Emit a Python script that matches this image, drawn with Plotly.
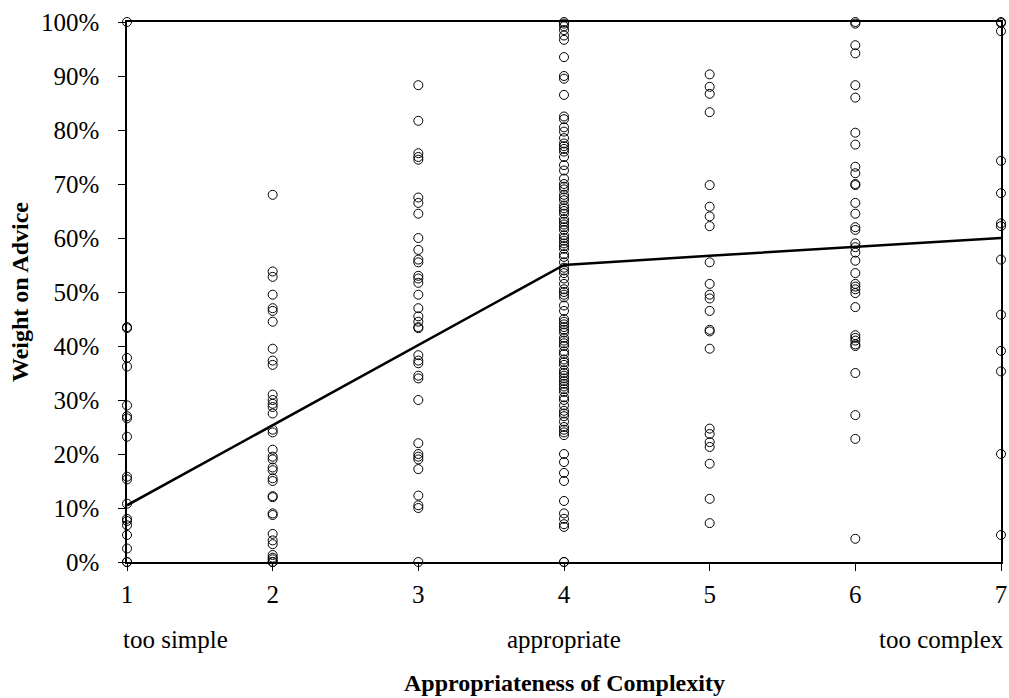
import plotly.graph_objects as go

# ---- data (weight on advice, in %) per complexity rating ----
rating_levels = [1, 2, 3, 4, 5, 6, 7]
woa_1 = [100, 43.5, 43.3, 37.8, 36.2, 29, 27, 26.6, 23.2, 15.8, 15.3, 10.8, 8, 7.6, 6.8, 5, 2.5, 0, 0]
woa_2 = [68, 53.8, 52.8, 49.5, 47, 46.5, 44.5, 39.5, 37.3, 36.5, 31, 30, 29.3, 28.7, 27.5, 24.5, 24,
         20.8, 19.5, 19, 17.5, 17, 15.5, 15, 12.2, 12, 9, 8.7, 5.2, 4, 3.3, 1.3, 0.8, 0.5, 0, 0]
woa_3 = [88.3, 81.7, 75.7, 75, 74.5, 67.5, 66.5, 64.5, 60, 57.8, 56, 55.5, 53, 52.5, 51.7, 49.5, 47,
         45.5, 44.5, 43.5, 43.3, 38.3, 37.3, 36.8, 34.5, 34, 30, 22, 20, 19.5, 19, 17.2, 12.3, 10.5, 10, 0]
woa_4 = [100, 99.7, 99.2, 98.5, 97.5, 96.7, 93.5, 90, 89.5, 86.5, 82.5, 82, 80.5, 79.7, 78.5, 77.5, 77,
         76.5, 76, 75, 73.5, 72.5, 71, 70, 69.5, 69, 68, 67.5, 67, 66, 65.5, 65, 64.5, 63.5, 63, 62.5,
         62, 61.5, 60.5, 60, 59.5, 59, 58.5, 58, 57, 56.5, 55.5, 54.5, 54, 53.5, 52.5, 51.5, 50.5, 50,
         49.5, 49, 47.5, 46.5, 45, 44.5, 44, 43.5, 43, 42.5, 41.5, 41, 40.5, 40, 39, 38.5, 37.5, 37,
         36.5, 35.5, 35, 34.5, 34, 33.5, 33, 32.5, 32, 31.5, 30.5, 30, 29, 28, 27.5, 27, 26, 25, 24.5,
         24, 23.5, 20, 18.5, 16.5, 15, 11.3, 9, 8, 7, 6.5, 0, 0]
woa_5 = [90.3, 88, 86.7, 83.3, 69.8, 65.8, 64, 62.2, 55.5, 51.5, 49.5, 48.8, 46.5, 43, 42.7, 39.5,
         24.7, 23.7, 22.2, 21.3, 18.2, 11.7, 7.2]
woa_6 = [100, 99.7, 95.7, 94.2, 88.3, 86, 79.5, 77.3, 73.2, 72, 70, 69.8, 66.5, 64.5, 62, 61.5, 59,
         58.3, 57.3, 55.8, 53.5, 51.5, 51, 50.5, 49.8, 47.2, 42, 41.5, 41, 40.3, 40, 35, 27.2, 22.8, 4.3]
woa_7 = [100, 99.8, 98.3, 74.3, 68.3, 62.7, 62.2, 56, 45.8, 39.1, 35.3, 20, 5]
fit_line = [10.5, 25.3, 40.2, 55.0, 56.7, 58.3, 60.0]

y_ticks = [0, 0.1, 0.2, 0.3, 0.4, 0.5, 0.6, 0.7, 0.8, 0.9, 1.0]
y_tick_labels = ["0%", "10%", "20%", "30%", "40%", "50%", "60%", "70%", "80%", "90%", "100%"]
x_tick_labels = ["1", "2", "3", "4", "5", "6", "7"]
anchor_labels = ["too simple", "appropriate", "too complex"]

columns = [woa_1, woa_2, woa_3, woa_4, woa_5, woa_6, woa_7]
xs, ys = [], []
for lvl, vals in zip(rating_levels, columns):
    for v in vals:
        xs.append(lvl)
        ys.append(v / 100.0)

FONT = "Liberation Serif"
fig = go.Figure()
fig.add_trace(go.Scatter(
    x=xs, y=ys, mode="markers", cliponaxis=False,
    marker=dict(symbol="circle-open", size=9, color="black", line=dict(width=1, color="black")),
    showlegend=False))
fig.add_trace(go.Scatter(
    x=rating_levels, y=[v / 100.0 for v in fit_line], mode="lines", cliponaxis=False,
    line=dict(color="black", width=2.5), showlegend=False))

fig.update_layout(
    width=1009, height=698,
    margin=dict(l=127, r=8, t=22, b=136, autoexpand=False),
    paper_bgcolor="white", plot_bgcolor="white",
    font=dict(family=FONT, size=25, color="black"),
    xaxis=dict(range=[1, 7], tickvals=rating_levels, ticktext=x_tick_labels, automargin=False,
               showgrid=False, zeroline=False, showline=True, linecolor="black", linewidth=1.5,
               mirror=True, ticks="outside", ticklen=7, tickcolor="black", tickwidth=1.2,
               ticklabelstandoff=2),
    yaxis=dict(range=[0, 1], tickvals=y_ticks, ticktext=y_tick_labels, automargin=False,
               showgrid=False, zeroline=False, showline=True, linecolor="black", linewidth=1.5,
               mirror=True, ticks="outside", ticklen=7, tickcolor="black", tickwidth=1.2,
               ticklabelstandoff=14),
)

fig.add_annotation(x=1, y=-0.1444, xref="x", yref="paper", text=anchor_labels[0],
                   showarrow=False, xanchor="left", yanchor="middle", xshift=-6)
fig.add_annotation(x=4, y=-0.1444, xref="x", yref="paper", text=anchor_labels[1],
                   showarrow=False, xanchor="center", yanchor="middle")
fig.add_annotation(x=7, y=-0.1444, xref="x", yref="paper", text=anchor_labels[2],
                   showarrow=False, xanchor="right", yanchor="middle", xshift=5)
fig.add_annotation(x=0.5, y=-0.224, xref="paper", yref="paper",
                   text="<b>Appropriateness of Complexity</b>", font=dict(size=24),
                   showarrow=False, xanchor="center", yanchor="middle")
fig.add_annotation(x=-0.1224, y=0.5, xref="paper", yref="paper",
                   text="<b>Weight on Advice</b>", textangle=-90, font=dict(size=24),
                   showarrow=False, xanchor="center", yanchor="middle")

fig.write_html("out.html", config={"displayModeBar": False},
               post_script="document.body.style.margin='0px';")
